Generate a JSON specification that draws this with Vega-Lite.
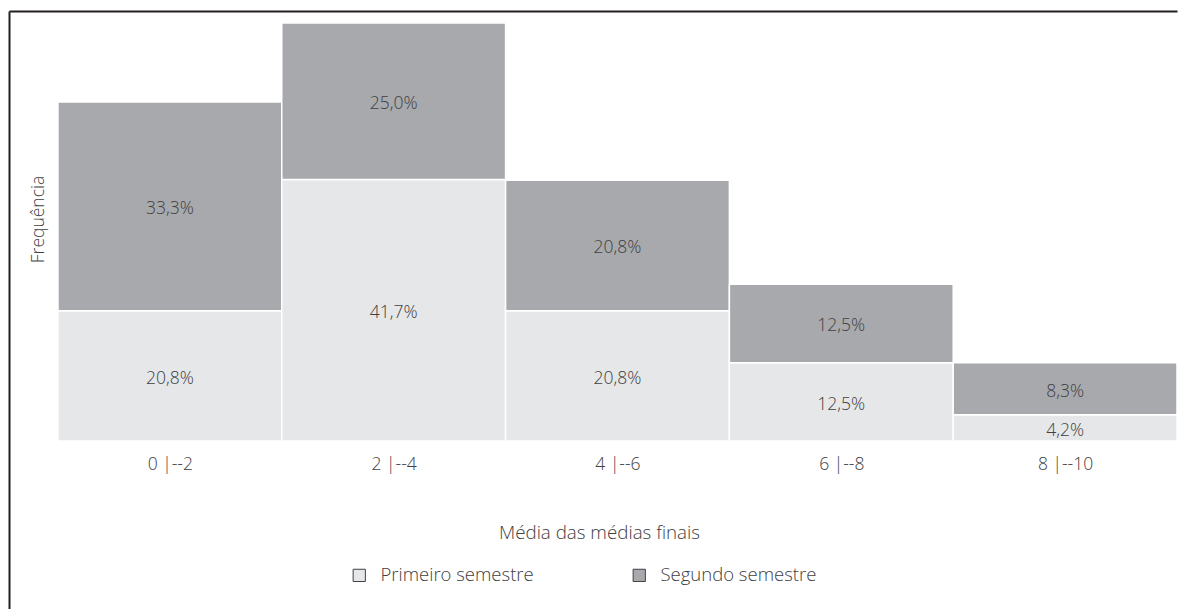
{
  "$schema": "https://vega.github.io/schema/vega-lite/v6.json",
  "autosize": {"type": "fit", "contains": "padding"},
  "width": 1178,
  "height": 609,
  "padding": {"left": 9, "top": 11, "right": 0, "bottom": 0},
  "background": "white",
  "config": {
    "view": {"stroke": null},
    "font": "Open Sans",
    "legend": {"symbolStrokeColor": "#414042"}
  },
  "data": {
    "values": [
      {"faixa": "0 |--2", "x0": 0, "x1": 2, "xc": 1, "semestre": "Primeiro semestre", "ord": 1, "pct": 20.8, "rotulo": "20,8%"},
      {"faixa": "0 |--2", "x0": 0, "x1": 2, "xc": 1, "semestre": "Segundo semestre", "ord": 2, "pct": 33.3, "rotulo": "33,3%"},
      {"faixa": "2 |--4", "x0": 2, "x1": 4, "xc": 3, "semestre": "Primeiro semestre", "ord": 1, "pct": 41.7, "rotulo": "41,7%"},
      {"faixa": "2 |--4", "x0": 2, "x1": 4, "xc": 3, "semestre": "Segundo semestre", "ord": 2, "pct": 25.0, "rotulo": "25,0%"},
      {"faixa": "4 |--6", "x0": 4, "x1": 6, "xc": 5, "semestre": "Primeiro semestre", "ord": 1, "pct": 20.8, "rotulo": "20,8%"},
      {"faixa": "4 |--6", "x0": 4, "x1": 6, "xc": 5, "semestre": "Segundo semestre", "ord": 2, "pct": 20.8, "rotulo": "20,8%"},
      {"faixa": "6 |--8", "x0": 6, "x1": 8, "xc": 7, "semestre": "Primeiro semestre", "ord": 1, "pct": 12.5, "rotulo": "12,5%"},
      {"faixa": "6 |--8", "x0": 6, "x1": 8, "xc": 7, "semestre": "Segundo semestre", "ord": 2, "pct": 12.5, "rotulo": "12,5%"},
      {"faixa": "8 |--10", "x0": 8, "x1": 10, "xc": 9, "semestre": "Primeiro semestre", "ord": 1, "pct": 4.2, "rotulo": "4,2%"},
      {"faixa": "8 |--10", "x0": 8, "x1": 10, "xc": 9, "semestre": "Segundo semestre", "ord": 2, "pct": 8.3, "rotulo": "8,3%"}
    ]
  },
  "transform": [
    {"stack": "pct", "groupby": ["faixa"], "sort": [{"field": "ord", "order": "ascending"}], "as": ["s0", "s1"]},
    {"calculate": "(datum.s0 + datum.s1) / 2", "as": "meio"}
  ],
  "resolve": {"axis": {"x": "independent", "y": "independent"}},
  "layer": [
    {
      "mark": {"type": "bar", "stroke": "white", "strokeWidth": 1.5},
      "encoding": {
        "x": {
          "field": "x0", "type": "quantitative",
          "scale": {"domain": [-0.4375, 10], "nice": false, "zero": false},
          "axis": {
            "orient": "bottom", "offset": -168, "values": [1, 3, 5, 7, 9],
            "labelExpr": "['','0 |--2','','2 |--4','','4 |--6','','6 |--8','','8 |--10'][datum.value]",
            "domain": false, "ticks": false, "tickSize": 0, "grid": false,
            "labelFontSize": 17.5, "labelFontWeight": 300, "labelColor": "#414042", "labelPadding": 14,
            "title": "Média das médias finais", "titleFontSize": 18.75, "titleFontWeight": 300,
            "titleColor": "#414042", "titlePadding": 51, "titleX": 590, "titleAlign": "center"
          }
        },
        "x2": {"field": "x1"},
        "y": {
          "field": "s0", "type": "quantitative",
          "scale": {"domain": [-26.8, 68.6], "nice": false, "zero": false},
          "axis": {
            "orient": "left", "domain": true, "domainColor": "#231f20", "domainWidth": 2,
            "ticks": false, "labels": false, "grid": false,
            "title": "Frequência", "titleFontSize": 17.5, "titleFontWeight": 300, "titleColor": "#414042",
            "titleAngle": -90, "titleX": 29, "titleY": 208, "titleBaseline": "middle", "titleAlign": "center"
          }
        },
        "y2": {"field": "s1"},
        "color": {
          "field": "semestre", "type": "nominal",
          "scale": {"domain": ["Primeiro semestre", "Segundo semestre"], "range": ["#e6e7e8", "#a7a9ac"]},
          "legend": {
            "title": null, "orient": "none", "direction": "horizontal",
            "legendX": 341, "legendY": 555,
            "symbolType": "square", "symbolSize": 150, "symbolStrokeWidth": 1,
            "labelFontSize": 18.5, "labelFontWeight": 300, "labelColor": "#414042", "labelOffset": 12,
            "columnPadding": 96
          }
        }
      }
    },
    {
      "mark": {"type": "text", "fontSize": 17.5, "fontWeight": 300, "color": "#414042", "baseline": "middle", "dy": 3},
      "encoding": {
        "x": {
          "field": "xc", "type": "quantitative",
          "axis": {"orient": "top", "domain": true, "domainColor": "#231f20", "domainWidth": 2, "ticks": false, "labels": false, "grid": false, "title": null}
        },
        "y": {"field": "meio", "type": "quantitative", "axis": null},
        "text": {"field": "rotulo"}
      }
    }
  ]
}
